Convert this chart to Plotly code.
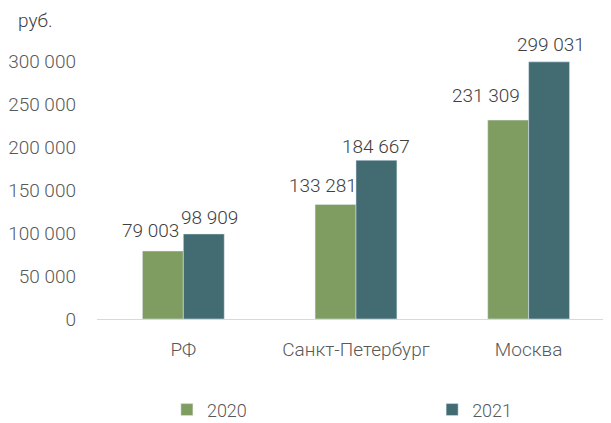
import plotly.graph_objects as go

categories = ["РФ", "Санкт-Петербург", "Москва"]
values_2020 = [79003, 133281, 231309]
values_2021 = [98909, 184667, 299031]
tick_vals = [0, 50000, 100000, 150000, 200000, 250000, 300000]
tick_text = ["0", "50 000", "100 000", "150 000", "200 000", "250 000", "300 000"]

def fmt(v):
    return f"{v:,}".replace(",", " ")

FONT = "Roboto, sans-serif"
TXT = "#404040"
TICK = "#595959"
C20 = "#7f9c61"
C21 = "#426b72"

fig = go.Figure()
fig.add_trace(go.Bar(name="2020", x=categories, y=values_2020, marker_color=C20, legend="legend"))
fig.add_trace(go.Bar(name="2021", x=categories, y=values_2021, marker_color=C21, legend="legend2"))

xs20 = [-33, -33, -43]
xs21 = [26, 20, 22]
ys20 = [7, 5, 11]
ys21 = [3, 0, 4]
for i, c in enumerate(categories):
    fig.add_annotation(x=c, y=values_2020[i], text=fmt(values_2020[i]), showarrow=False,
                       yanchor="bottom", xshift=xs20[i], yshift=ys20[i],
                       font=dict(family=FONT, size=19, color=TXT, weight=300))
    fig.add_annotation(x=c, y=values_2021[i], text=fmt(values_2021[i]), showarrow=False,
                       yanchor="bottom", xshift=xs21[i], yshift=ys21[i],
                       font=dict(family=FONT, size=19, color=TXT, weight=300))

fig.add_annotation(text="руб.", xref="paper", yref="paper", x=-0.1206, y=0.993,
                   xanchor="center", yanchor="middle", showarrow=False,
                   font=dict(family=FONT, size=19, color=TXT, weight=300))

legfont = dict(family=FONT, size=18, color=TICK, weight=300)
# page body has an 8px margin, so the figure is 8px smaller than the window
fig.update_layout(
    width=603, height=415,
    margin=dict(l=89, r=0, t=10, b=104, autoexpand=False),
    plot_bgcolor="white", paper_bgcolor="white",
    barmode="group", bargap=0.526, bargroupgap=0,
    font=dict(family=FONT, size=19, color=TXT),
    showlegend=True,
    legend=dict(orientation="h", x=0.136, xanchor="left", y=-0.302, yanchor="middle",
                font=legfont, bgcolor="rgba(0,0,0,0)"),
    legend2=dict(orientation="h", x=0.652, xanchor="left", y=-0.302, yanchor="middle",
                 font=legfont, bgcolor="rgba(0,0,0,0)"),
    xaxis=dict(range=[-0.5, 2.477], showline=True, linecolor="#d9d9d9", linewidth=1,
               automargin=False, ticks="", ticklabelstandoff=13,
               tickfont=dict(family=FONT, size=19, color=TICK, weight=300)),
    yaxis=dict(range=[0, 350000], tickvals=tick_vals, ticktext=tick_text,
               automargin=False, showgrid=False, zeroline=False, showline=False, ticks="",
               ticklabelstandoff=20,
               tickfont=dict(family=FONT, size=19, color=TICK, weight=300)),
)

fig.write_html("out.html")
